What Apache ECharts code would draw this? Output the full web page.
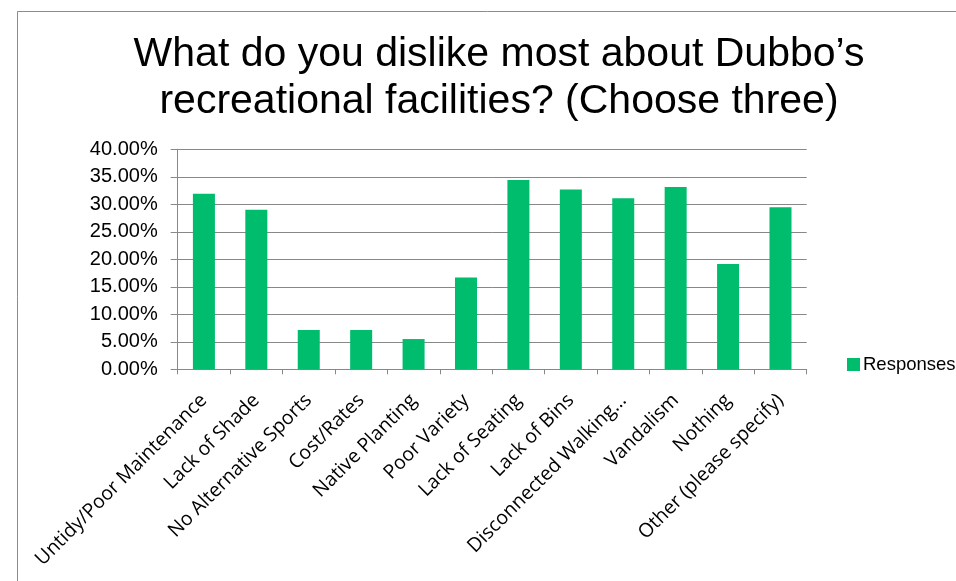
<!DOCTYPE html>
<html>
<head>
<meta charset="utf-8">
<script src="https://cdn.jsdelivr.net/npm/echarts@6/dist/echarts.min.js"></script>
<style>html,body{margin:0;padding:0;background:#fff}#c{width:956px;height:581px}</style>
</head>
<body>
<div id="c"></div>
<script>
var titleText = 'What do you dislike most about Dubbo\u2019s\nrecreational facilities? (Choose three)';
var categories = ['Untidy/Poor Maintenance','Lack of Shade','No Alternative Sports','Cost/Rates','Native Planting','Poor Variety','Lack of Seating','Lack of Bins','Disconnected Walking\u2026','Vandalism','Nothing','Other (please specify)'];
var responses = [31.9, 29.0, 7.15, 7.15, 5.5, 16.7, 34.4, 32.7, 31.1, 33.15, 19.15, 29.45];
var seriesName = 'Responses';

var chart = echarts.init(document.getElementById('c'), null, {renderer:'canvas'});
chart.setOption({
  animation:false,
  backgroundColor:'#fff',
  graphic:[{type:'rect', shape:{x:17.5,y:11.5,width:1000,height:1000}, style:{fill:'none', stroke:'#8c8c8c', lineWidth:1}, silent:true}],
  title:{text:titleText, left:494, textAlign:'center', top:26,
    textStyle:{fontFamily:'Liberation Sans', fontSize:41, fontWeight:'normal', color:'#000', lineHeight:47}},
  legend:{left:842, top:350, itemWidth:13, itemHeight:13, icon:'rect', itemGap:6,
    textStyle:{fontFamily:'Liberation Sans', fontSize:18.5, color:'#000', padding:[0,0,0,-2]}},
  grid:{left:177.7, right:149.3, top:149.3, bottom:211.7},
  xAxis:{type:'category', data:categories,
    axisLine:{lineStyle:{color:'#888', width:1}},
    axisTick:{show:true, length:5, lineStyle:{color:'#888'}},
    axisLabel:{rotate:45, interval:0, margin:28, fontFamily:'Open Sans', fontSize:19.5, color:'#000'}},
  yAxis:{type:'value', min:0, max:40, interval:5,
    axisLine:{show:true, lineStyle:{color:'#888', width:1}},
    axisTick:{show:true, length:7, lineStyle:{color:'#888'}},
    splitLine:{lineStyle:{color:'#888', width:1}},
    axisLabel:{margin:20, fontFamily:'Liberation Sans', fontSize:20, color:'#000',
      formatter:function(v){return v.toFixed(2)+'%';}}},
  series:[{name:seriesName, type:'bar', data:responses, barCategoryGap:'58%',
    itemStyle:{color:'#00bd6e'}}]
});
</script>
</body>
</html>
